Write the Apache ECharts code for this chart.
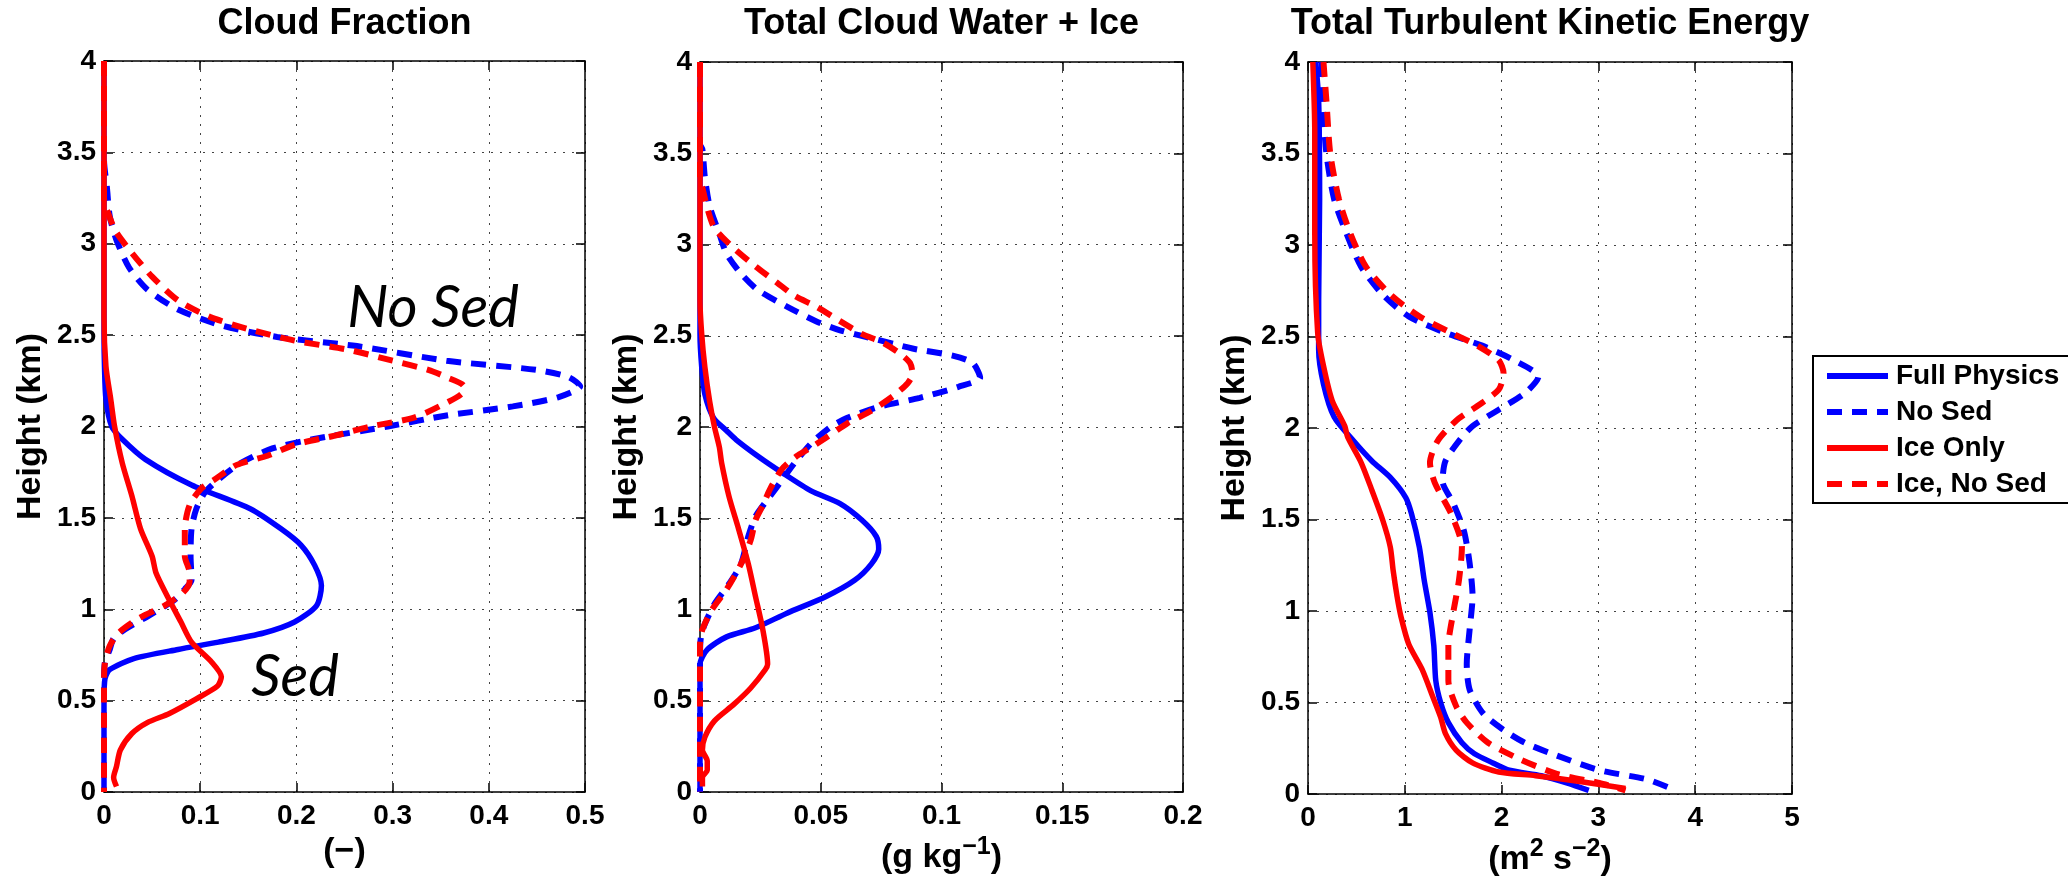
<!DOCTYPE html>
<html>
<head>
<meta charset="utf-8">
<title>Cloud profiles</title>
<script src="https://cdn.jsdelivr.net/npm/echarts@6/dist/echarts.min.js"></script>
<style>
  html, body { margin: 0; padding: 0; background: #fff; }
  #main { width: 2068px; height: 880px; }
</style>
</head>
<body>
<div id="main"></div>
<script>
// tick labels
var heightTicks = [0, 0.5, 1, 1.5, 2, 2.5, 3, 3.5, 4];
var cloudFracTicks = [0, 0.1, 0.2, 0.3, 0.4, 0.5];
var cloudWaterTicks = [0, 0.05, 0.1, 0.15, 0.2];
var tkeTicks = [0, 1, 2, 3, 4, 5];

var panelTitles = ['Cloud Fraction', 'Total Cloud Water + Ice', 'Total Turbulent Kinetic Energy'];
var panelUnits = ['(−)', '(g kg{sup|−1})', '(m{sup|2} s{sup|−2})'];
var seriesNames = ['Full Physics', 'No Sed', 'Ice Only', 'Ice, No Sed'];

// [value, height km], read from top to bottom
// cloud fraction
var cfFull = [[0,4],[0,2.51],[0.0005,2.33],[0.002,2.15],[0.008,2.0],[0.019,1.93],[0.043,1.82],[0.091,1.68],[0.152,1.55],[0.184,1.44],[0.205,1.35],[0.219,1.24],[0.226,1.13],[0.221,1.02],[0.198,0.93],[0.166,0.87],[0.119,0.82],[0.077,0.78],[0.031,0.73],[0.006,0.67],[0.001,0.62],[0,0.5],[0,0]];
var cfNoSed = [[0,4],[0,3.46],[0.003,3.31],[0.006,3.15],[0.013,3.02],[0.026,2.87],[0.045,2.75],[0.077,2.64],[0.124,2.55],[0.18,2.49],[0.263,2.44],[0.356,2.36],[0.449,2.31],[0.483,2.27],[0.495,2.22],[0.472,2.16],[0.425,2.11],[0.356,2.06],[0.295,2.0],[0.217,1.93],[0.175,1.88],[0.142,1.8],[0.119,1.71],[0.105,1.64],[0.096,1.55],[0.091,1.44],[0.09,1.29],[0.091,1.16],[0.084,1.11],[0.073,1.05],[0.045,0.96],[0.022,0.89],[0.01,0.84],[0.006,0.78],[0.001,0.71],[0,0.6],[0,0]];
var cfIce = [[0,4],[0,2.6],[0.002,2.33],[0.007,2.15],[0.011,2.0],[0.019,1.8],[0.029,1.62],[0.038,1.44],[0.05,1.29],[0.054,1.2],[0.066,1.07],[0.08,0.93],[0.091,0.82],[0.112,0.71],[0.122,0.63],[0.118,0.58],[0.096,0.51],[0.068,0.43],[0.045,0.38],[0.029,0.32],[0.017,0.23],[0.013,0.14],[0.01,0.08],[0.013,0.03]];
var cfIceNoSed = [[0,4],[0,3.25],[0.002,3.2],[0.012,3.07],[0.029,2.95],[0.05,2.82],[0.077,2.69],[0.11,2.6],[0.152,2.53],[0.198,2.47],[0.254,2.42],[0.3,2.36],[0.337,2.31],[0.356,2.27],[0.374,2.22],[0.372,2.18],[0.356,2.13],[0.323,2.05],[0.277,2.0],[0.24,1.95],[0.198,1.9],[0.17,1.84],[0.138,1.79],[0.115,1.71],[0.101,1.66],[0.089,1.57],[0.084,1.44],[0.084,1.29],[0.089,1.2],[0.089,1.15],[0.082,1.09],[0.063,1.02],[0.036,0.95],[0.015,0.87],[0.006,0.8],[0.001,0.71],[0,0.6],[0,0]];

// total cloud water + ice (g/kg)
var cwFull = [[0,4],[0,2.51],[0.0007,2.33],[0.002,2.18],[0.0056,2.05],[0.011,1.98],[0.015,1.93],[0.024,1.84],[0.034,1.75],[0.046,1.65],[0.058,1.58],[0.067,1.49],[0.073,1.4],[0.074,1.33],[0.071,1.25],[0.064,1.16],[0.052,1.07],[0.036,0.98],[0.023,0.9],[0.011,0.85],[0.003,0.78],[0,0.7],[0,0]];
var cwNoSed = [[0,4],[0,3.55],[0.001,3.52],[0.002,3.37],[0.004,3.21],[0.008,3.06],[0.011,2.95],[0.017,2.84],[0.024,2.75],[0.036,2.66],[0.048,2.58],[0.058,2.53],[0.07,2.49],[0.088,2.43],[0.105,2.39],[0.113,2.35],[0.116,2.27],[0.107,2.22],[0.091,2.16],[0.074,2.11],[0.061,2.05],[0.054,2.0],[0.046,1.91],[0.039,1.8],[0.034,1.71],[0.029,1.62],[0.023,1.51],[0.02,1.4],[0.017,1.25],[0.012,1.14],[0.006,1.03],[0.002,0.92],[0.0004,0.85],[0,0.75],[0,0]];
var cwIce = [[0,4],[0,2.69],[0.0007,2.51],[0.002,2.33],[0.004,2.14],[0.006,2.0],[0.008,1.89],[0.009,1.8],[0.012,1.62],[0.016,1.44],[0.02,1.25],[0.023,1.07],[0.026,0.89],[0.028,0.7],[0.027,0.67],[0.021,0.57],[0.014,0.48],[0.006,0.39],[0.002,0.3],[0.001,0.23],[0.003,0.17],[0.003,0.12],[0.001,0.08],[0.001,0.03]];
var cwIceNoSed = [[0,4],[0,3.35],[0.001,3.31],[0.003,3.2],[0.006,3.09],[0.014,2.98],[0.023,2.88],[0.032,2.79],[0.039,2.72],[0.048,2.66],[0.058,2.58],[0.067,2.51],[0.076,2.46],[0.083,2.4],[0.087,2.35],[0.088,2.29],[0.086,2.24],[0.08,2.17],[0.071,2.09],[0.061,2.02],[0.052,1.94],[0.045,1.88],[0.04,1.84],[0.034,1.77],[0.029,1.66],[0.026,1.57],[0.023,1.49],[0.021,1.38],[0.017,1.25],[0.011,1.11],[0.005,1.0],[0.001,0.89],[0,0.81],[0,0]];

// total TKE (m2/s2)
var tkeFull = [[0.08,4],[0.11,3.79],[0.12,3.25],[0.11,2.7],[0.11,2.43],[0.16,2.24],[0.27,2.06],[0.47,1.93],[0.66,1.82],[0.85,1.73],[1.01,1.62],[1.07,1.53],[1.15,1.35],[1.2,1.17],[1.26,0.99],[1.3,0.81],[1.32,0.62],[1.37,0.5],[1.45,0.39],[1.59,0.28],[1.72,0.22],[1.91,0.17],[2.08,0.13],[2.41,0.1],[2.68,0.06],[2.9,0.02]];
var tkeNoSed = [[0.14,4],[0.15,3.79],[0.19,3.5],[0.27,3.25],[0.4,3.06],[0.55,2.88],[0.77,2.73],[1.04,2.61],[1.42,2.52],[1.8,2.45],[2.13,2.37],[2.38,2.28],[2.24,2.19],[1.97,2.1],[1.7,2.01],[1.56,1.93],[1.42,1.82],[1.39,1.71],[1.5,1.59],[1.61,1.44],[1.67,1.26],[1.7,1.08],[1.67,0.9],[1.64,0.71],[1.67,0.57],[1.81,0.44],[2.02,0.35],[2.24,0.28],[2.57,0.21],[3.01,0.13],[3.5,0.08],[3.75,0.03]];
var tkeIce = [[0.05,4],[0.07,3.61],[0.07,3.06],[0.1,2.52],[0.16,2.34],[0.25,2.15],[0.38,2.01],[0.41,1.95],[0.55,1.81],[0.66,1.66],[0.77,1.5],[0.85,1.35],[0.88,1.22],[0.92,1.08],[0.96,0.97],[1.04,0.82],[1.18,0.68],[1.29,0.53],[1.37,0.42],[1.42,0.33],[1.53,0.24],[1.7,0.17],[1.97,0.12],[2.35,0.1],[2.79,0.07],[3.28,0.03]];
var tkeIceNoSed = [[0.16,4],[0.19,3.79],[0.23,3.5],[0.32,3.25],[0.44,3.06],[0.6,2.88],[0.85,2.73],[1.15,2.61],[1.48,2.52],[1.75,2.45],[1.97,2.37],[2.02,2.3],[1.97,2.21],[1.75,2.12],[1.53,2.04],[1.34,1.93],[1.26,1.81],[1.31,1.7],[1.48,1.53],[1.59,1.35],[1.56,1.17],[1.5,0.99],[1.45,0.81],[1.45,0.62],[1.53,0.48],[1.64,0.39],[1.86,0.28],[2.19,0.19],[2.57,0.11],[3.01,0.06],[3.28,0.02]];

var panelData = [
    [cfFull, cfNoSed, cfIce, cfIceNoSed],
    [cwFull, cwNoSed, cwIce, cwIceNoSed],
    [tkeFull, tkeNoSed, tkeIce, tkeIceNoSed]
];
var panelXTicks = [cloudFracTicks, cloudWaterTicks, tkeTicks];

var FONT = 'Liberation Sans, Arial, Helvetica, sans-serif';
var BLUE = '#0000ff', RED = '#ff0000';
var DASH = [15, 10];

var lineStyles = [
    { color: BLUE, width: 5.5, type: 'solid' },
    { color: BLUE, width: 6, type: DASH },
    { color: RED, width: 5.5, type: 'solid' },
    { color: RED, width: 6, type: DASH }
];

var grids = [
    { left: 104, top: 61, width: 481, height: 731 },
    { left: 700, top: 62, width: 483, height: 730 },
    { left: 1308, top: 62, width: 484, height: 732 }
];

function range(ticks) {
    return { min: ticks[0], max: ticks[ticks.length - 1], interval: ticks[1] - ticks[0] };
}

var supStyle = { fontSize: 25, fontWeight: 'bold', fontFamily: FONT, color: '#000', verticalAlign: 'bottom', padding: [0, 0, 20, 0] };
var tickStyle = { show: true, inside: true, length: 9, lineStyle: { color: '#000', width: 1.5 } };
var boxLine = { show: true, onZero: false, lineStyle: { color: '#000', width: 1.5 } };
var gridDots = { show: true, lineStyle: { color: '#444', width: 1, type: [2, 7] } };
var labelStyle = { color: '#000', fontSize: 28, fontWeight: 'bold', fontFamily: FONT };

var xAxes = [], yAxes = [], series = [], titles = [];

grids.forEach(function (g, i) {
    var xr = range(panelXTicks[i]);
    var yr = range(heightTicks);
    xAxes.push({
        type: 'value', gridIndex: i, position: 'bottom',
        min: xr.min, max: xr.max, interval: xr.interval,
        name: panelUnits[i], nameLocation: 'middle', nameGap: 40,
        nameTextStyle: { color: '#000', fontSize: 34, fontWeight: 'bold', fontFamily: FONT, rich: { sup: supStyle } },
        axisLine: boxLine, axisTick: tickStyle,
        axisLabel: Object.assign({ margin: 10 }, labelStyle),
        splitLine: gridDots
    });
    xAxes.push({
        type: 'value', gridIndex: i, position: 'top',
        min: xr.min, max: xr.max, interval: xr.interval,
        axisLine: boxLine, axisTick: tickStyle,
        axisLabel: { show: false }, splitLine: { show: false }
    });
    yAxes.push({
        type: 'value', gridIndex: i, position: 'left',
        min: yr.min, max: yr.max, interval: yr.interval,
        name: 'Height (km)', nameLocation: 'middle', nameGap: 56,
        nameTextStyle: { color: '#000', fontSize: 34, fontWeight: 'bold', fontFamily: FONT },
        axisLine: boxLine, axisTick: tickStyle,
        axisLabel: Object.assign({ margin: 8 }, labelStyle),
        splitLine: gridDots
    });
    yAxes.push({
        type: 'value', gridIndex: i, position: 'right',
        min: yr.min, max: yr.max, interval: yr.interval,
        axisLine: boxLine, axisTick: tickStyle,
        axisLabel: { show: false }, splitLine: { show: false }
    });
    titles.push({
        text: panelTitles[i],
        left: g.left + g.width / 2, top: 6, textAlign: 'center', padding: 0,
        textStyle: { color: '#000', fontSize: 36, fontWeight: 'bold', fontFamily: FONT }
    });
    panelData[i].forEach(function (d, k) {
        series.push({
            name: seriesNames[k], type: 'line',
            xAxisIndex: 2 * i, yAxisIndex: 2 * i,
            data: d, symbol: 'none', smooth: 0.25,
            color: lineStyles[k].color,
            lineStyle: lineStyles[k],
            animation: false
        });
    });
});

var myChart = echarts.init(document.getElementById('main'), null, { renderer: 'canvas' });
var option = {
    backgroundColor: '#fff',
    animation: false,
    title: titles,
    grid: grids.map(function (g) {
        return Object.assign({ show: false, containLabel: false, outerBoundsMode: 'none' }, g);
    }),
    xAxis: xAxes,
    yAxis: yAxes,
    legend: {
        orient: 'vertical', left: 1813, top: 356,
        itemWidth: 61, itemHeight: 14, itemGap: 6,
        padding: [5, 80, 4, 11],
        borderColor: '#000', borderWidth: 2, backgroundColor: '#fff',
        selectedMode: false,
        lineStyle: { width: 6 },
        itemStyle: { opacity: 0 },
        textStyle: { color: '#000', fontSize: 28, fontWeight: 'bold', fontFamily: FONT, lineHeight: 30, padding: [0, 0, 0, 3] },
        data: seriesNames
    },
    graphic: [
        { type: 'text', x: 433, y: 308, style: { text: 'No Sed', fontSize: 58, fontStyle: 'italic', fontFamily: 'Lato, Open Sans, sans-serif', fill: '#000', align: 'center', verticalAlign: 'middle' } },
        { type: 'text', x: 295, y: 677, style: { text: 'Sed', fontSize: 58, fontStyle: 'italic', fontFamily: 'Lato, Open Sans, sans-serif', fill: '#000', align: 'center', verticalAlign: 'middle' } }
    ],
    series: series
};
myChart.setOption(option);
window.onresize = myChart.resize;
</script>
</body>
</html>
